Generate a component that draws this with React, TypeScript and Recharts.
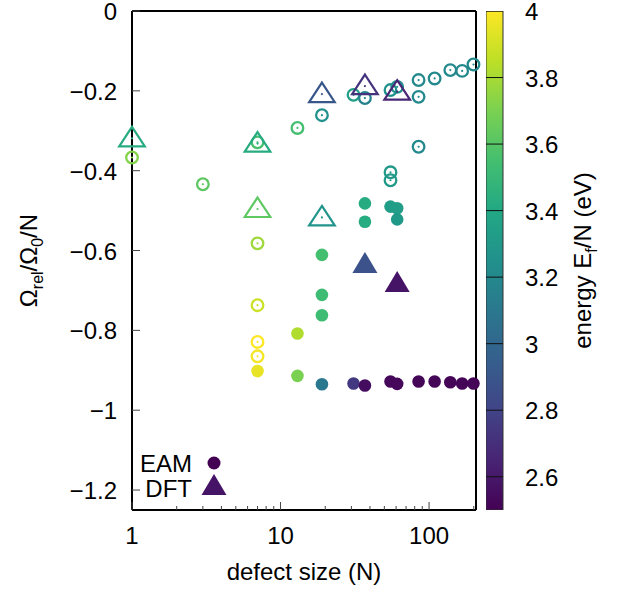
// Relaxation volume per defect size, coloured by formation energy (viridis colorbar).
import { ScatterChart, Scatter, XAxis, YAxis, Legend, BarChart, Bar } from "recharts";

// EAM, filled circles
const eamN = [7, 13, 13, 19, 19, 19, 19, 31, 37, 55, 61, 85, 109, 139, 167, 199, 37, 37, 55, 61, 61];
const eamOmega = [
  -0.902, -0.808, -0.914, -0.611, -0.711, -0.762, -0.935, -0.933, -0.938, -0.928, -0.934,
  -0.928, -0.928, -0.93, -0.933, -0.933, -0.482, -0.528, -0.49, -0.494, -0.522,
];
const eamEnergy = [
  3.95, 3.82, 3.7, 3.55, 3.53, 3.53, 3.1, 2.75, 2.55, 2.53, 2.53, 2.52, 2.52, 2.52, 2.52, 2.52,
  3.42, 3.42, 3.33, 3.33, 3.3,
];

// EAM, open circles
const eamOpenN = [1, 3, 7, 7, 7, 7, 7, 13, 19, 31, 37, 55, 61, 85, 85, 85, 109, 139, 167, 199, 55, 55];
const eamOpenOmega = [
  -0.367, -0.434, -0.329, -0.582, -0.737, -0.829, -0.865, -0.293, -0.261, -0.21, -0.218,
  -0.198, -0.19, -0.173, -0.215, -0.34, -0.169, -0.148, -0.15, -0.134, -0.404, -0.424,
];
const eamOpenEnergy = [
  3.72, 3.62, 3.56, 3.78, 3.88, 4.0, 3.98, 3.55, 3.25, 3.35, 3.15, 3.25, 3.25, 3.2, 3.2, 3.2,
  3.2, 3.2, 3.2, 3.2, 3.3, 3.3,
];

// DFT, filled triangles
const dftN = [37, 61];
const dftOmega = [-0.636, -0.684];
const dftEnergy = [2.88, 2.58];

// DFT, open triangles
const dftOpenN = [1, 7, 7, 19, 19, 37, 61];
const dftOpenOmega = [-0.319, -0.332, -0.496, -0.208, -0.517, -0.188, -0.202];
const dftOpenEnergy = [3.42, 3.42, 3.62, 2.9, 3.27, 2.72, 2.66];

const xTicks = [1, 2, 3, 4, 5, 6, 7, 8, 9, 10, 20, 30, 40, 50, 60, 70, 80, 90, 100, 200];
const xMajor = [1, 10, 100];
const yTicks = [0, -0.2, -0.4, -0.6, -0.8, -1, -1.2];
const cbTicks = [2.6, 2.8, 3, 3.2, 3.4, 3.6, 3.8, 4];
const E_MIN = 2.5;
const E_MAX = 4;

const VIRIDIS = [
  "#440154", "#482475", "#414487", "#355f8d", "#2a788e", "#21918c",
  "#22a884", "#44bf70", "#7ad151", "#bddf26", "#fde725",
];

const FONT = "'Liberation Sans', Arial, sans-serif";
const TICK = "#444";

function hexToRgb(h: string) {
  return [1, 3, 5].map((i) => parseInt(h.slice(i, i + 2), 16));
}

function viridis(e: number) {
  const t = Math.min(1, Math.max(0, (e - E_MIN) / (E_MAX - E_MIN)));
  const i = Math.min(9, Math.floor(t * 10));
  const f = t * 10 - i;
  const a = hexToRgb(VIRIDIS[i]);
  const b = hexToRgb(VIRIDIS[i + 1]);
  const c = a.map((v, k) => Math.round(v + (b[k] - v) * f));
  return `rgb(${c[0]},${c[1]},${c[2]})`;
}

const zip = (n: number[], o: number[], e: number[]) =>
  n.map((v, i) => ({ n: v, omega: o[i], e: e[i] }));

const eamPts = zip(eamN, eamOmega, eamEnergy);
const eamOpenPts = zip(eamOpenN, eamOpenOmega, eamOpenEnergy);
const dftPts = zip(dftN, dftOmega, dftEnergy);
const dftOpenPts = zip(dftOpenN, dftOpenOmega, dftOpenEnergy);

const fmtY = (v: number) => (v === 0 ? "0" : "\u2212" + Math.abs(v));

function OpenCircle(p: any) {
  const c = viridis(p.payload.e);
  return (
    <g>
      <circle cx={p.cx} cy={p.cy} r={5.8} fill="none" stroke={c} strokeWidth={2.3} />
      <circle cx={p.cx} cy={p.cy} r={1.1} fill={c} />
    </g>
  );
}

function FilledCircle(p: any) {
  return <circle cx={p.cx} cy={p.cy} r={6.3} fill={viridis(p.payload.e)} />;
}

function OpenTriangle(p: any) {
  const c = viridis(p.payload.e);
  const { cx, cy } = p;
  return (
    <g>
      <path
        d={`M${cx},${cy - 11.5}L${cx + 12.8},${cy + 8}L${cx - 12.8},${cy + 8}Z`}
        fill="none"
        stroke={c}
        strokeWidth={2.2}
      />
      <circle cx={cx} cy={cy} r={1.1} fill={c} />
    </g>
  );
}

function FilledTriangle(p: any) {
  const { cx, cy } = p;
  return (
    <path
      d={`M${cx},${cy - 13}L${cx + 12.5},${cy + 8}L${cx - 12.5},${cy + 8}Z`}
      fill={viridis(p.payload.e)}
    />
  );
}

function XTick(p: any) {
  const { x, y, payload, side } = p;
  const major = xMajor.includes(payload.value);
  const len = major ? 8 : 4;
  const dir = side === "top" ? 1 : -1;
  return (
    <g>
      <line x1={x} x2={x} y1={y} y2={y + dir * len} stroke={TICK} strokeWidth={1} />
      {side !== "top" && major && (
        <text x={x} y={y + 34} textAnchor="middle" fontSize={24} fill="#000" fontFamily={FONT}>
          {payload.value}
        </text>
      )}
    </g>
  );
}

function YTick(p: any) {
  const { x, y, payload, side } = p;
  const dir = side === "right" ? -1 : 1;
  return (
    <g>
      <line x1={x} x2={x + dir * 8} y1={y} y2={y} stroke={TICK} strokeWidth={1} />
      {side !== "right" && (
        <text x={x - 15} y={y} dy="0.38em" textAnchor="end" fontSize={24} fill="#000" fontFamily={FONT}>
          {fmtY(payload.value)}
        </text>
      )}
    </g>
  );
}

function CbTick(p: any) {
  const { x, y, payload } = p;
  return (
    <text x={x + 22} y={y} dy="0.38em" textAnchor="start" fontSize={24} fill="#000" fontFamily={FONT}>
      {String(payload.value)}
    </text>
  );
}

function YTitle(p: any) {
  const vb = p.viewBox;
  return (
    <text
      transform={`translate(${vb.x + 37},${vb.y + vb.height / 2}) rotate(-90)`}
      textAnchor="middle"
      fontSize={24}
      fontFamily={FONT}
      fill="#000"
    >
      Ω<tspan fontSize={16} dy={6}>rel</tspan>
      <tspan dy={-6}>/Ω</tspan>
      <tspan fontSize={16} dy={6}>0</tspan>
      <tspan dy={-6}>/N</tspan>
    </text>
  );
}

function XTitle(p: any) {
  const vb = p.viewBox;
  return (
    <text x={vb.x + vb.width / 2} y={vb.y + 70} textAnchor="middle" fontSize={24} fontFamily={FONT} fill="#000">
      defect size (N)
    </text>
  );
}

function CbTitle(p: any) {
  const vb = p.viewBox;
  return (
    <text
      transform={`translate(${vb.x + 88},${vb.y + vb.height / 2}) rotate(-90)`}
      textAnchor="middle"
      fontSize={24}
      fontFamily={FONT}
      fill="#000"
    >
      energy E<tspan fontSize={16} dy={6}>f</tspan>
      <tspan dy={-6}>/N (eV)</tspan>
    </text>
  );
}

// colour bar: the gradient, plus the tick marks across it placed on the bar's own extent
function CbBar(p: any) {
  const at = (v: number) => p.y + ((E_MAX - v) / (E_MAX - E_MIN)) * p.height;
  return (
    <g>
      <defs>
        <linearGradient id="viridis" x1="0" y1="1" x2="0" y2="0">
          {VIRIDIS.map((c, i) => (
            <stop key={c} offset={`${i * 10}%`} stopColor={c} />
          ))}
        </linearGradient>
      </defs>
      <rect x={p.x} y={p.y} width={p.width} height={p.height} fill="url(#viridis)" stroke="#333" strokeWidth={1} />
      {cbTicks.map((v) => (
        <line key={v} x1={p.x} x2={p.x + p.width} y1={at(v)} y2={at(v)} stroke="#111" strokeWidth={1} />
      ))}
    </g>
  );
}

function LegendBox() {
  const c1 = viridis(2.5);
  const c2 = viridis(2.58);
  return (
    <svg width={120} height={60} style={{ display: "block", fontFamily: FONT }}>
      <text x={62} y={27} textAnchor="end" fontSize={24} fill="#000">EAM</text>
      <circle cx={84} cy={18} r={6.5} fill={c1} />
      <text x={62} y={52} textAnchor="end" fontSize={24} fill="#000">DFT</text>
      <path d="M84,29L96.5,50L71.5,50Z" fill={c2} />
    </svg>
  );
}

const cbData = [{ k: "cb", range: [E_MIN, E_MAX] }];

export default function App() {
  const border = { stroke: "#000", strokeWidth: 2 };
  return (
    <div style={{ position: "absolute", left: 0, top: 0, width: 628, height: 590, background: "#fff", fontFamily: FONT }}>
      <ScatterChart
        width={628}
        height={590}
        margin={{ top: 10, right: 151, bottom: 0, left: 0 }}
        style={{ position: "absolute", left: 0, top: 0 }}
      >
        <XAxis
          dataKey="n"
          type="number"
          scale="log"
          domain={[1, 207]}
          ticks={xTicks}
          interval={0}
          height={80}
          tickSize={0}
          tickMargin={0}
          tickLine={false}
          axisLine={border}
          tick={<XTick side="bottom" />}
          label={{ content: XTitle }}
        />
        <XAxis
          xAxisId="top"
          orientation="top"
          type="number"
          scale="log"
          domain={[1, 207]}
          ticks={xTicks}
          interval={0}
          height={1}
          tickSize={0}
          tickMargin={0}
          tickLine={false}
          axisLine={border}
          tick={<XTick side="top" />}
        />
        <YAxis
          dataKey="omega"
          type="number"
          domain={[-1.25, 0]}
          ticks={yTicks}
          interval={0}
          width={132}
          tickSize={0}
          tickMargin={0}
          tickLine={false}
          axisLine={border}
          tick={<YTick side="left" />}
          label={{ content: YTitle }}
        />
        <YAxis
          yAxisId="mirror"
          orientation="right"
          type="number"
          domain={[-1.25, 0]}
          ticks={yTicks}
          interval={0}
          width={1}
          tickSize={0}
          tickMargin={0}
          tickLine={false}
          axisLine={border}
          tick={<YTick side="right" />}
        />
        <Scatter data={eamOpenPts} shape={OpenCircle} isAnimationActive={false} />
        <Scatter data={eamPts} shape={FilledCircle} isAnimationActive={false} />
        <Scatter data={dftOpenPts} shape={OpenTriangle} isAnimationActive={false} />
        <Scatter data={dftPts} shape={FilledTriangle} isAnimationActive={false} />
        <Legend
          layout="horizontal"
          verticalAlign="middle"
          align="center"
          content={() => <LegendBox />}
          wrapperStyle={{ position: "absolute", left: 130, top: 445, width: 120, height: 60 }}
        />
      </ScatterChart>

      <BarChart
        width={142}
        height={590}
        data={cbData}
        margin={{ top: 11, right: 0, bottom: 80, left: 0 }}
        barCategoryGap={0}
        style={{ position: "absolute", left: 486, top: 0 }}
      >
        <XAxis dataKey="k" hide />
        <Bar dataKey="range" shape={CbBar} isAnimationActive={false} />
        <YAxis
          orientation="right"
          type="number"
          domain={[E_MIN, E_MAX]}
          ticks={cbTicks}
          interval={0}
          width={125}
          tickSize={0}
          tickMargin={0}
          tickLine={false}
          axisLine={false}
          allowDataOverflow
          tick={<CbTick />}
          label={{ content: CbTitle }}
        />
      </BarChart>
    </div>
  );
}
